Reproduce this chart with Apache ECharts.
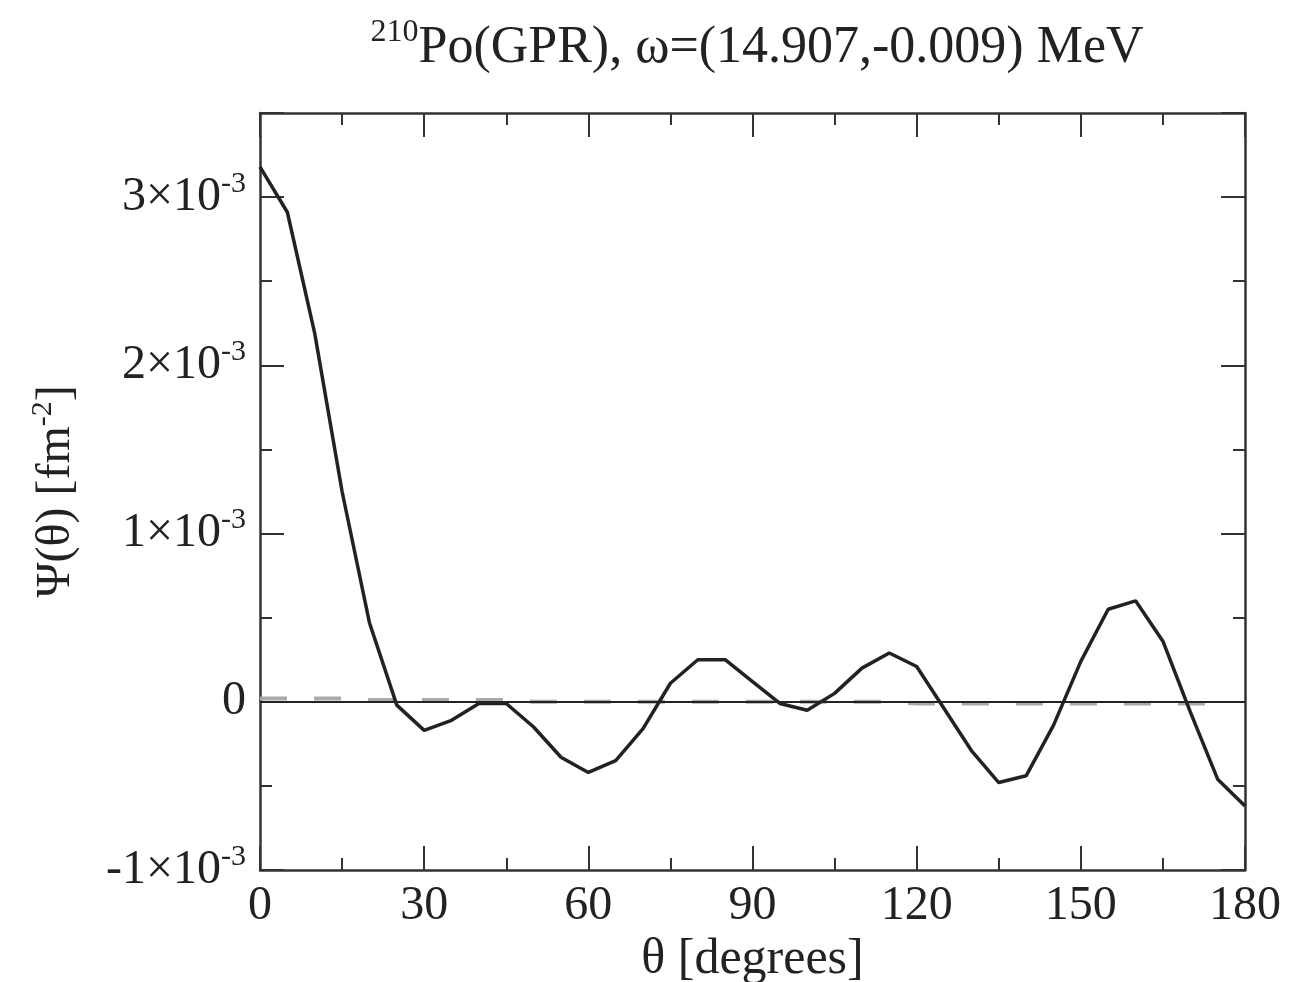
<!DOCTYPE html>
<html>
<head>
<meta charset="utf-8">
<script src="https://cdn.jsdelivr.net/npm/echarts@6/dist/echarts.min.js"></script>
<style>
  html, body { margin: 0; padding: 0; background: #fff; }
  #chart { width: 1292px; height: 982px; }
</style>
</head>
<body>
<div id="chart"></div>
<script>
// angles in degrees
var theta = [0, 5, 10, 15, 20, 25, 30, 35, 40, 45, 50, 55, 60, 65, 70, 75, 80, 85, 90,
  95, 100, 105, 110, 115, 120, 125, 130, 135, 140, 145, 150, 155, 160, 165, 170, 175, 180];
// Psi(theta), in units of 1e-3 fm^-2 (solid black)
var psiSolid = [3.18, 2.91, 2.19, 1.25, 0.47, -0.02, -0.17, -0.11, -0.01, -0.01, -0.15, -0.33, -0.42,
  -0.35, -0.16, 0.11, 0.25, 0.25, 0.12, -0.01, -0.05, 0.05, 0.2, 0.29, 0.21, -0.04, -0.29,
  -0.48, -0.44, -0.14, 0.24, 0.55, 0.6, 0.36, -0.06, -0.46, -0.62];
// dashed grey curve (nearly zero), 0..175 deg
var thetaDash = theta.slice(0, 36);
var psiDash = [0.02, 0.02, 0.02, 0.02, 0.01, 0.01, 0.01, 0.01, 0.01, 0.01, 0.0, 0.0, 0.0,
  0.0, 0.0, 0.0, 0.0, 0.0, 0.0, 0.0, 0.0, 0.0, 0.0, 0.0, -0.01, -0.01, -0.01, -0.01,
  -0.01, -0.01, -0.01, -0.01, -0.01, -0.01, -0.01, -0.01];
var xTicks = [0, 30, 60, 90, 120, 150, 180];
var yTicks = [-1, 0, 1, 2, 3];

var FONT = "Liberation Serif";
var chart = echarts.init(document.getElementById("chart"));

function pairs(xs, ys) {
  return xs.map(function (x, i) { return [x, ys[i]]; });
}

var axisLineStyle = { color: "#333", width: 2.5 };
var tickStyle = { color: "#333", width: 2 };
var supRich = {
  m: { fontFamily: FONT, fontSize: 48, fontWeight: "normal", color: "#222", lineHeight: 56 },
  sup: { fontFamily: FONT, fontSize: 30, fontWeight: "normal", color: "#222", verticalAlign: "top", lineHeight: 56 }
};

var option = {
  backgroundColor: "#fff",
  animation: false,
  title: {
    text: "{sup|210}{m|Po(GPR), ω=(14.907,-0.009) MeV}",
    left: 752,
    top: 12,
    textAlign: "center",
    textStyle: {
      fontWeight: "normal",
      rich: {
        sup: { fontFamily: FONT, fontSize: 32, fontWeight: "normal", color: "#222", verticalAlign: "top", lineHeight: 62 },
        m: { fontFamily: FONT, fontSize: 52, fontWeight: "normal", color: "#222", lineHeight: 62 }
      }
    }
  },
  grid: { left: 260, right: 47, top: 113, bottom: 112, outerBoundsMode: "none", containLabel: false },
  xAxis: [
    {
      type: "value",
      min: 0,
      max: 180,
      interval: 30,
      name: "θ [degrees]",
      nameLocation: "middle",
      nameGap: 56,
      nameTextStyle: { fontFamily: FONT, fontSize: 50, color: "#222" },
      axisLine: { show: true, onZero: false, lineStyle: axisLineStyle },
      axisTick: { inside: true, length: 24, lineStyle: tickStyle },
      minorTick: { show: true, splitNumber: 2, length: 12, lineStyle: tickStyle },
      axisLabel: {
        fontFamily: FONT, fontSize: 48, color: "#222", margin: 12,
        formatter: function (v) { return xTicks.indexOf(v) >= 0 ? String(v) : ""; }
      },
      splitLine: { show: false }
    },
    {
      type: "value",
      position: "top",
      min: 0,
      max: 180,
      interval: 30,
      axisLine: { show: true, onZero: false, lineStyle: axisLineStyle },
      axisTick: { inside: true, length: 24, lineStyle: tickStyle },
      minorTick: { show: true, splitNumber: 2, length: 12, lineStyle: tickStyle },
      axisLabel: { show: false },
      splitLine: { show: false }
    }
  ],
  yAxis: [
    {
      type: "value",
      min: -1,
      max: 3.5,
      interval: 1,
      name: "{m|Ψ(θ) [fm}{sup|-2}{m|]}",
      nameLocation: "middle",
      nameRotate: 90,
      nameGap: 176,
      nameTextStyle: { rich: supRich },
      axisLine: { show: true, onZero: false, lineStyle: axisLineStyle },
      axisTick: { inside: true, length: 24, lineStyle: tickStyle },
      minorTick: { show: true, splitNumber: 2, length: 12, lineStyle: tickStyle },
      axisLabel: {
        margin: 14,
        formatter: function (v) {
          if (yTicks.indexOf(v) < 0) return "";
          if (v === 0) return "{m|0}";
          return "{m|" + v + "×10}{sup|-3}";
        },
        rich: supRich
      },
      splitLine: { show: false }
    },
    {
      type: "value",
      position: "right",
      min: -1,
      max: 3.5,
      interval: 1,
      axisLine: { show: true, onZero: false, lineStyle: axisLineStyle },
      axisTick: { inside: true, length: 24, lineStyle: tickStyle },
      minorTick: { show: true, splitNumber: 2, length: 12, lineStyle: tickStyle },
      axisLabel: { show: false },
      splitLine: { show: false }
    }
  ],
  series: [
    {
      name: "dashed",
      type: "line",
      data: pairs(thetaDash, psiDash),
      showSymbol: false,
      lineStyle: { color: "#aaa", width: 4, type: [27, 27] },
      z: 2
    },
    {
      name: "psi",
      type: "line",
      data: pairs(theta, psiSolid),
      showSymbol: false,
      lineStyle: { color: "#222", width: 3.5 },
      markLine: {
        silent: true,
        symbol: "none",
        label: { show: false },
        lineStyle: { color: "#222", width: 2, type: "solid" },
        data: [{ yAxis: 0 }]
      },
      z: 3
    }
  ]
};

chart.setOption(option);
</script>
</body>
</html>
